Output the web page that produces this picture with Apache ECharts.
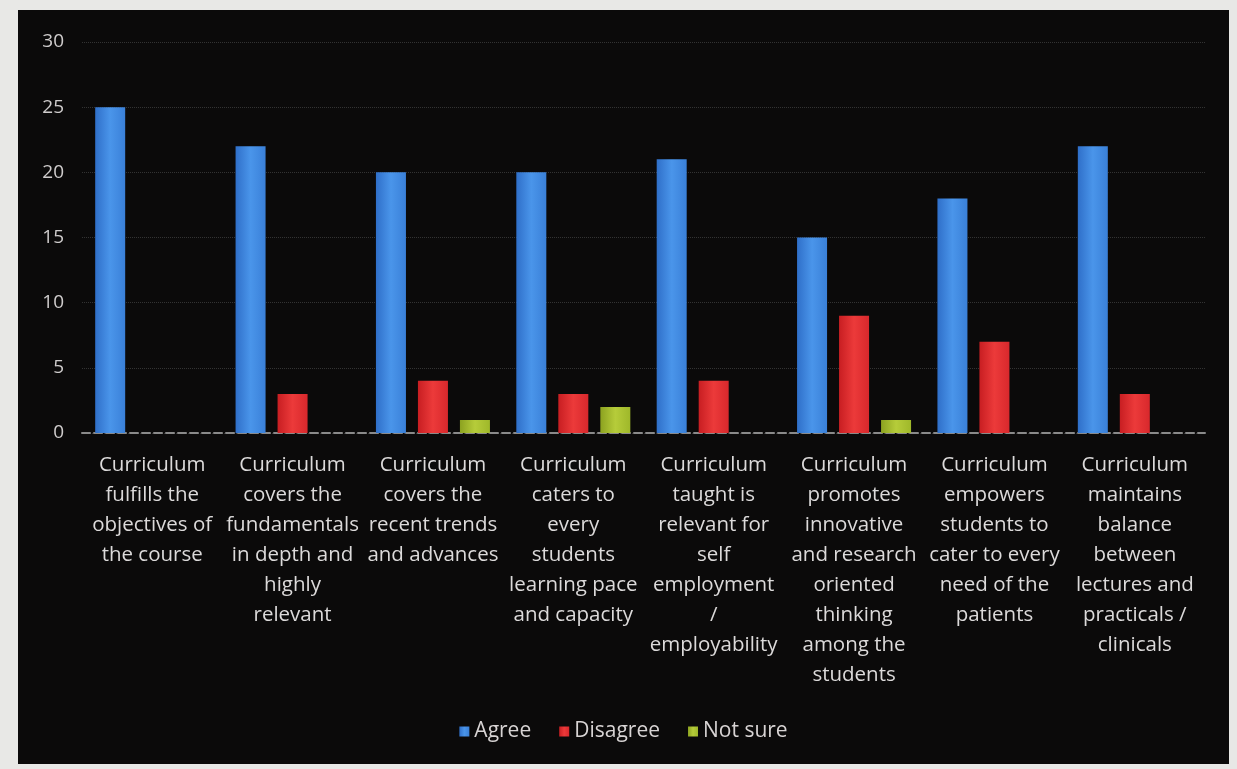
<!DOCTYPE html>
<html style="height: 100%">
<head>
<meta charset="utf-8">
<script src="https://cdn.jsdelivr.net/npm/echarts@6/dist/echarts.min.js"></script>
</head>
<body style="height: 100%; margin: 0; background: #e8e8e6">
<div id="container" style="position: absolute; left: 18px; top: 10px; right: 8px; bottom: 5px; background: #0b0a0a"></div>
<script>
// categories (wrapped like the original)
var categories = [
	'Curriculum\nfulfills the\nobjectives of\nthe course',
	'Curriculum\ncovers the\nfundamentals\nin depth and\nhighly\nrelevant',
	'Curriculum\ncovers the\nrecent trends\nand advances',
	'Curriculum\ncaters to\nevery\nstudents\nlearning pace\nand capacity',
	'Curriculum\ntaught is\nrelevant for\nself\nemployment\n/\nemployability',
	'Curriculum\npromotes\ninnovative\nand research\noriented\nthinking\namong the\nstudents',
	'Curriculum\nempowers\nstudents to\ncater to every\nneed of the\npatients',
	'Curriculum\nmaintains\nbalance\nbetween\nlectures and\npracticals /\nclinicals'
];
var agree    = [25, 22, 20, 20, 21, 15, 18, 22];
var disagree = [0, 3, 4, 3, 4, 9, 7, 3];
var notSure  = [0, 0, 1, 2, 0, 1, 0, 0];
var seriesNames = ['Agree', 'Disagree', 'Not sure'];

var dom = document.getElementById("container");
var myChart = echarts.init(dom);
var option = null;

// cylinder-ish shading across the bar
function shade(dark, mid, light) {
	return new echarts.graphic.LinearGradient(0, 0, 1, 0, [
		{ offset: 0, color: dark },
		{ offset: 0.5, color: light },
		{ offset: 1, color: mid }
	]);
}

function draw() {
	option = {
		backgroundColor: '#0b0a0a',
		textStyle: {
			fontFamily: '"Open Sans", Lato, sans-serif'
		},
		grid: {
			left: 64,
			right: 24,
			top: 32,
			bottom: 331
		},
		legend: {
			data: seriesNames,
			bottom: 17,
			left: 'center',
			itemWidth: 10,
			itemHeight: 10,
			itemGap: 28,
			icon: 'rect',
			textStyle: {
				color: '#d8d4d4',
				fontSize: 21
			}
		},
		xAxis: {
			type: 'category',
			data: categories,
			axisTick: { show: false },
			axisLine: {
				lineStyle: { color: '#8a8a8a', type: 'dashed', width: 2 }
			},
			axisLabel: {
				interval: 0,
				color: '#dcdada',
				fontSize: 20.5,
				lineHeight: 30,
				margin: 17
			}
		},
		yAxis: {
			type: 'value',
			min: 0,
			max: 30,
			interval: 5,
			axisLine: { show: false },
			axisTick: { show: false },
			axisLabel: {
				color: '#cfcccc',
				fontSize: 19,
				margin: 18
			},
			splitLine: {
				lineStyle: { color: '#333', type: 'dotted', width: 1 }
			}
		},
		series: [{
			name: seriesNames[0],
			type: 'bar',
			data: agree,
			barWidth: 30,
			barGap: '40%',
			itemStyle: { color: shade('#2f6fc9', '#3a80d8', '#4a95ea') }
		}, {
			name: seriesNames[1],
			type: 'bar',
			data: disagree,
			barWidth: 30,
			barGap: '40%',
			itemStyle: { color: shade('#c81e22', '#d8282c', '#ec3a3a') }
		}, {
			name: seriesNames[2],
			type: 'bar',
			data: notSure,
			barWidth: 30,
			barGap: '40%',
			itemStyle: { color: shade('#8ca220', '#9fb82a', '#b6cc3a') }
		}]
	};
	if (option && typeof option === "object") {
		myChart.setOption(option, true);
	}
}

draw();
</script>
</body>
</html>
